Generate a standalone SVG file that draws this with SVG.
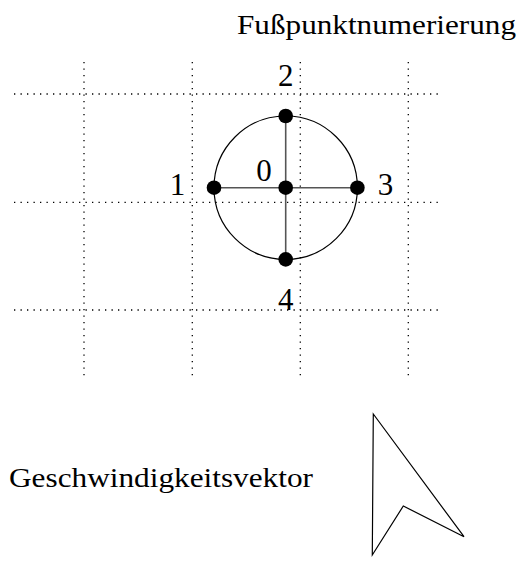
<svg xmlns="http://www.w3.org/2000/svg" width="519" height="565" viewBox="0 0 519 565">
<style>
.grid{stroke:#000;stroke-width:1.3;stroke-dasharray:1.3 5.2;fill:none}
.spoke{stroke:#555;stroke-width:1.6}
.dot{fill:#000}
text{font-family:'Liberation Serif','Times New Roman',Times,serif;fill:#000}
.num{font-size:31px}
.txt{font-size:28px}
</style>
<rect width="519" height="565" fill="#fff"/>
<g id="grid">
<line class="grid" x1="84" y1="62" x2="84" y2="380"/>
<line class="grid" x1="192.3" y1="62" x2="192.3" y2="380"/>
<line class="grid" x1="300.3" y1="62" x2="300.3" y2="380"/>
<line class="grid" x1="408.3" y1="62" x2="408.3" y2="380"/>
<line class="grid" x1="14" y1="94" x2="440" y2="94"/>
<line class="grid" x1="14" y1="202.3" x2="440" y2="202.3"/>
<line class="grid" x1="14" y1="310" x2="440" y2="310"/>
</g>
<g id="title"><text class="txt" font-family="Liberation Serif, serif" x="237" y="34" textLength="279" lengthAdjust="spacingAndGlyphs">Fußpunktnumerierung</text></g>
<g id="circle"><circle cx="285.7" cy="187.7" r="71.7" fill="none" stroke="#000" stroke-width="1.2"/></g>
<g id="connectors">
<line class="spoke" x1="214" y1="187.7" x2="357.4" y2="187.7"/>
<line class="spoke" x1="285.7" y1="116" x2="285.7" y2="259.4"/>
</g>
<g id="n0"><circle class="dot" cx="285.7" cy="187.7" r="7.3"/><text class="num" x="264" y="181" text-anchor="middle">0</text></g>
<g id="n1"><circle class="dot" cx="214" cy="187.7" r="7.3"/><text class="num" x="177.5" y="195" text-anchor="middle">1</text></g>
<g id="n2"><circle class="dot" cx="285.7" cy="116" r="7.3"/><text class="num" x="285.7" y="86" text-anchor="middle">2</text></g>
<g id="n3"><circle class="dot" cx="357.4" cy="187.7" r="7.3"/><text class="num" x="385.5" y="195" text-anchor="middle">3</text></g>
<g id="n4"><circle class="dot" cx="285.7" cy="259.4" r="7.3"/><text class="num" x="285.7" y="310" text-anchor="middle">4</text></g>
<g id="vector">
<text class="txt" x="9" y="487" textLength="304" lengthAdjust="spacingAndGlyphs">Geschwindigkeitsvektor</text>
<polygon points="373.3,414 464,536.7 403.3,506 372.3,555" fill="none" stroke="#000" stroke-width="1.2" stroke-linejoin="miter"/>
</g>
</svg>
